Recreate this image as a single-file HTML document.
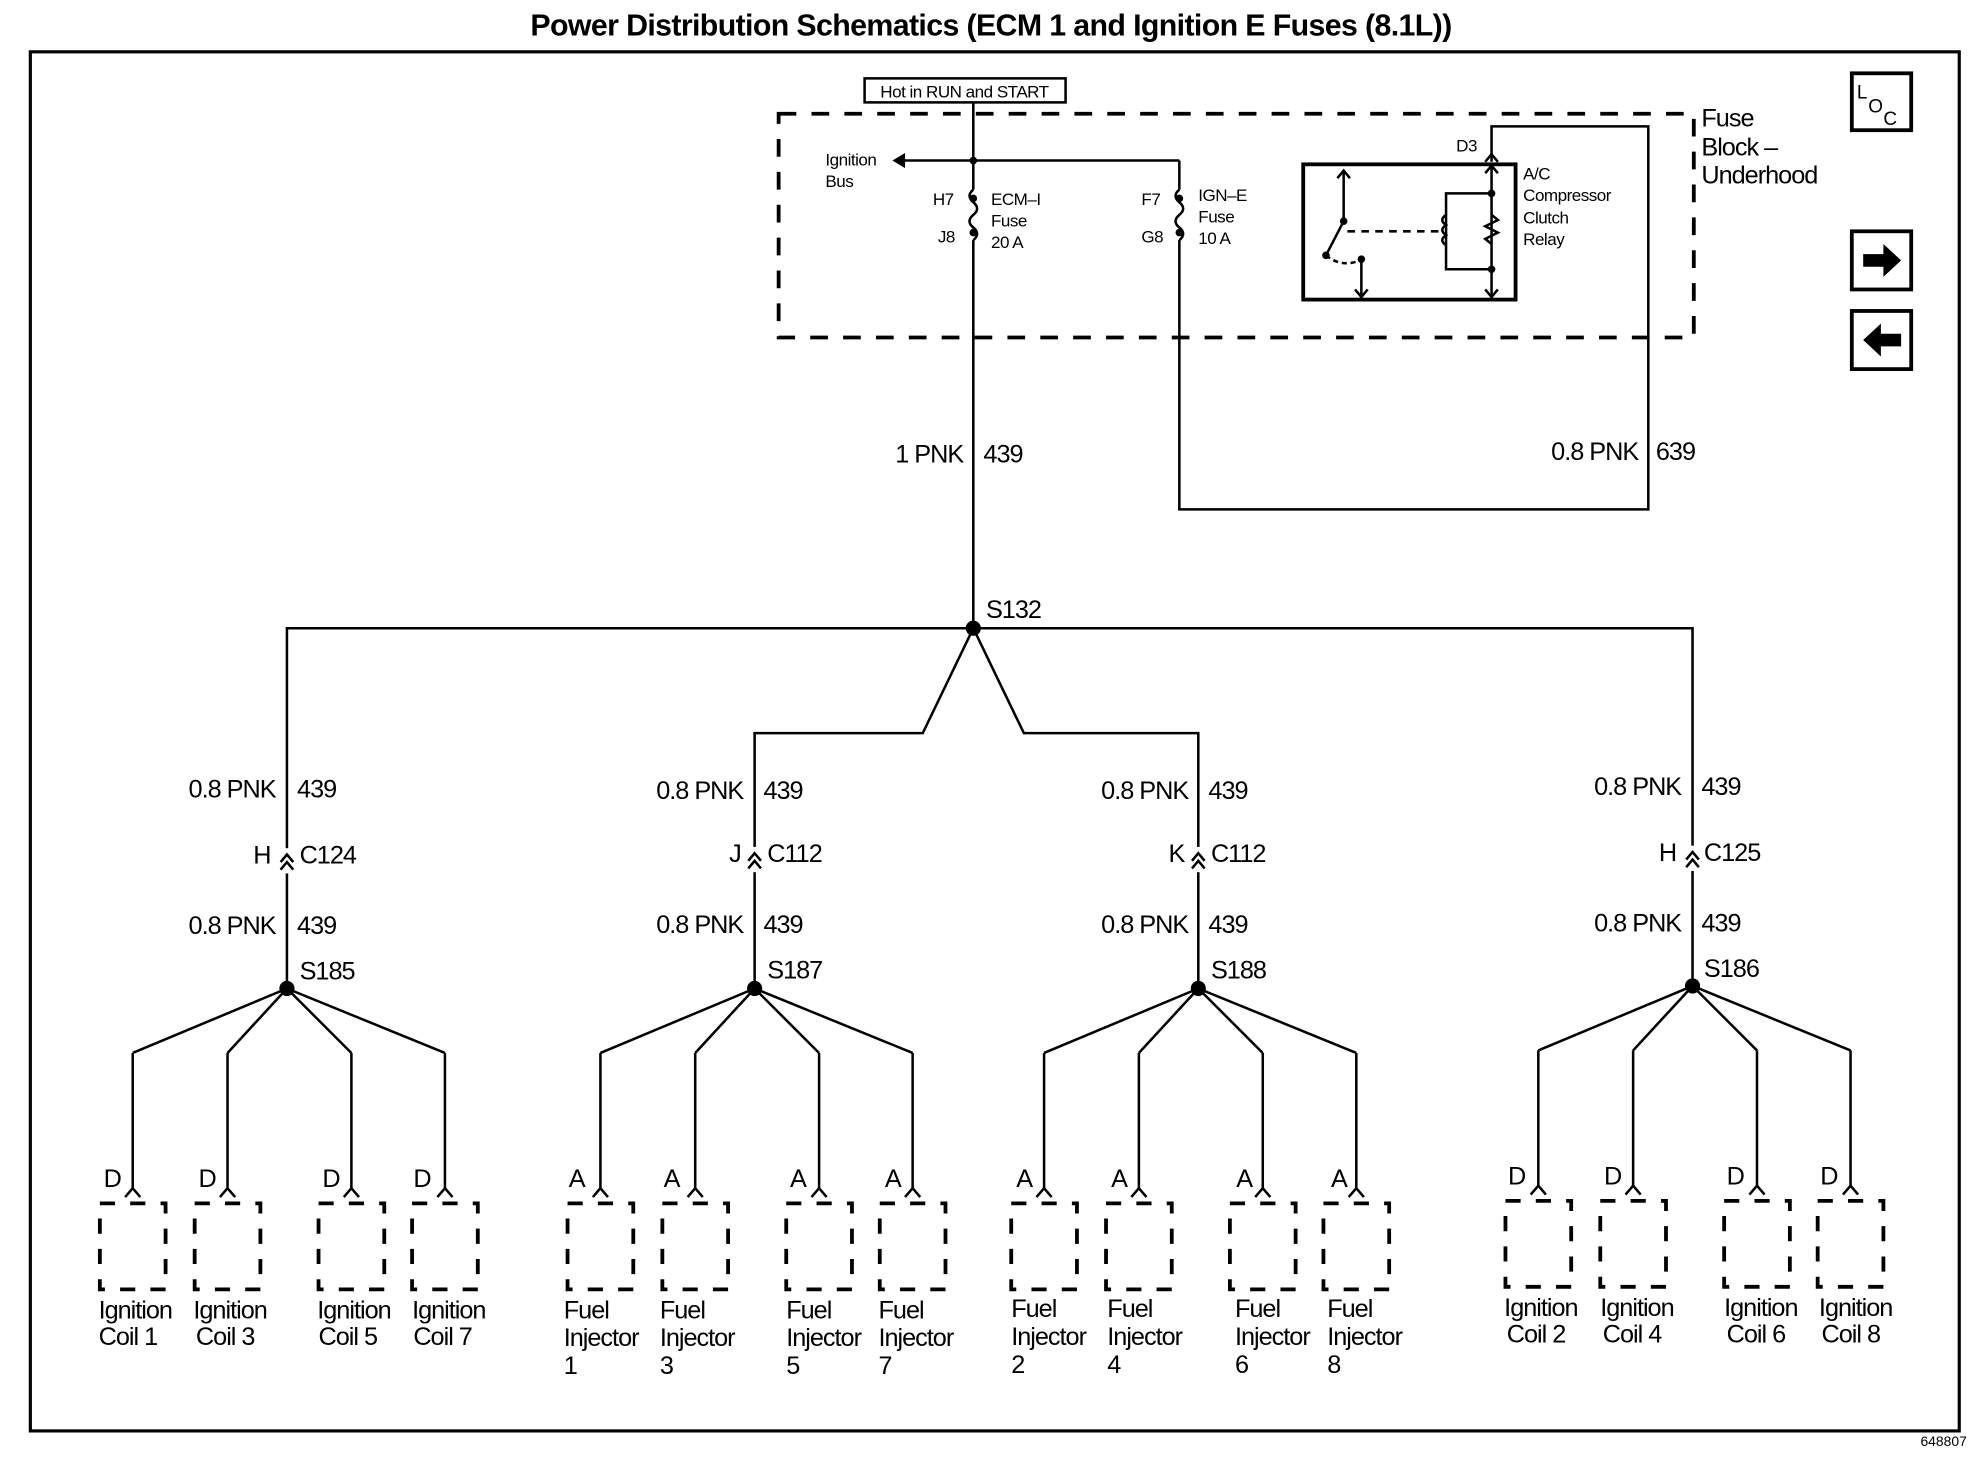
<!DOCTYPE html>
<html><head><meta charset="utf-8"><style>
html,body{margin:0;padding:0;background:#fff;}
svg{display:block;}
text{font-family:"Liberation Sans",sans-serif;fill:#000;}
.m{font-size:20px;letter-spacing:-0.8px;}
.s{font-size:13.5px;letter-spacing:-0.4px;}
</style></head><body>
<svg width="1982" height="1472" viewBox="0 0 1568 1164.5" preserveAspectRatio="none" xmlns="http://www.w3.org/2000/svg">
<defs>
<g id="drop" fill="none" stroke="#000">
<line x1="0" y1="0" x2="0" y2="107" stroke-width="2"/>
<polyline points="-6,114 0,107 6,114" stroke-width="2"/>
<rect x="-26" y="119" width="52" height="68" stroke-width="3" stroke-dasharray="12,12"/>
</g>
<g id="grp">
<circle cx="0" cy="0" r="6" fill="#000"/>
<polyline points="-122,51 0,0 -47,51" fill="none" stroke="#000" stroke-width="2"/>
<polyline points="51,51 0,0 125,51" fill="none" stroke="#000" stroke-width="2"/>
<use href="#drop" x="-122" y="51"/><use href="#drop" x="-47" y="51"/>
<use href="#drop" x="51" y="51"/><use href="#drop" x="125" y="51"/>
</g>
<g id="conn" fill="none" stroke="#000" stroke-width="2">
<polyline points="-5,10 0,4 5,10"/><polyline points="-5,16 0,10 5,16"/>
</g>
</defs>
<text x="784" y="28" text-anchor="middle" style="font-size:24px;font-weight:bold;letter-spacing:-0.5px">Power Distribution Schematics (ECM 1 and Ignition E Fuses (8.1L))</text>
<rect x="24" y="41" width="1526" height="1091" fill="none" stroke="#000" stroke-width="2.5"/>
<text x="1556" y="1144" text-anchor="end" style="font-size:11px">648807</text>

<rect x="616" y="90" width="724" height="177" fill="none" stroke="#000" stroke-width="3" stroke-dasharray="14,12"/>
<text class="m" x="1346" y="100">Fuse</text><text class="m" x="1346" y="123">Block –</text><text class="m" x="1346" y="145">Underhood</text>
<rect x="684" y="62" width="159" height="19" fill="none" stroke="#000" stroke-width="2"/>
<text class="s" x="763" y="77" text-anchor="middle">Hot in RUN and START</text>

<g fill="none" stroke="#000" stroke-width="2">
<line x1="770" y1="81" x2="770" y2="150"/>
<path d="M770,150 q-6,5 0,10 q6,5 0,10 q-6,5 0,10 q6,5 0,10"/>
<line x1="770" y1="190" x2="770" y2="497"/>
<line x1="770" y1="127" x2="712" y2="127"/>
<line x1="770" y1="127" x2="933" y2="127"/><line x1="933" y1="127" x2="933" y2="150"/>
<path d="M933,150 q-6,5 0,10 q6,5 0,10 q-6,5 0,10 q6,5 0,10"/>
<polyline points="933,190 933,403 1304,403 1304,100 1180,100 1180,128"/>
<polyline points="1175,128 1180,122 1185,128"/>
<rect x="1031" y="130" width="168" height="107" stroke-width="3"/>
<line x1="1063" y1="135" x2="1063" y2="175"/><polyline points="1058,141 1063,135 1068,141"/>
<line x1="1063" y1="175" x2="1049" y2="202"/>
<line x1="1066" y1="183" x2="1140" y2="183" stroke-dasharray="6,5"/>
<path d="M1049,202 q12,10 27,4" stroke-dasharray="4,3"/>
<line x1="1077" y1="205" x2="1077" y2="235"/><polyline points="1072,229 1077,235 1082,229"/>
<line x1="1180" y1="130" x2="1180" y2="235"/><polyline points="1175,137 1180,131 1185,137"/><polyline points="1175,229 1180,235 1185,229"/>
<polyline points="1180,153 1144,153 1144,213 1180,213"/>
<path d="M1144,170 q-6,4 0,8 q-6,4 0,8 q-6,4 0,8"/>
<polyline points="1180,170 1185,174 1175,179 1185,184 1175,189 1180,193"/>
</g>
<polygon points="706,127 716,121 716,133"/>
<circle cx="770" cy="127" r="3"/><circle cx="770" cy="157" r="3"/><circle cx="770" cy="184" r="3"/>
<circle cx="933" cy="157" r="3"/><circle cx="933" cy="184" r="3"/>
<circle cx="1063" cy="175" r="3"/><circle cx="1049" cy="202" r="3"/><circle cx="1077" cy="205" r="3"/>
<circle cx="1180" cy="153" r="3"/><circle cx="1180" cy="213" r="3"/>
<text class="s" x="653" y="131">Ignition</text><text class="s" x="653" y="148">Bus</text>
<text class="s" x="738" y="162">H7</text><text class="s" x="742" y="192">J8</text>
<text class="s" x="784" y="162">ECM–I</text><text class="s" x="784" y="179">Fuse</text><text class="s" x="784" y="196">20 A</text>
<text class="s" x="903" y="162">F7</text><text class="s" x="903" y="192">G8</text>
<text class="s" x="948" y="159">IGN–E</text><text class="s" x="948" y="176">Fuse</text><text class="s" x="948" y="193">10 A</text>
<text class="s" x="1152" y="120">D3</text>
<text class="s" x="1205" y="142">A/C</text><text class="s" x="1205" y="159">Compressor</text><text class="s" x="1205" y="177">Clutch</text><text class="s" x="1205" y="194">Relay</text>

<rect x="1465" y="58" width="47" height="45" fill="none" stroke="#000" stroke-width="3"/>
<text x="1469" y="78" style="font-size:15px">L</text><text x="1478" y="89" style="font-size:15px">O</text><text x="1490" y="99" style="font-size:15px">C</text>
<rect x="1465" y="183" width="47" height="46" fill="none" stroke="#000" stroke-width="3"/>
<polygon points="1474,201 1490,201 1490,193 1504,206 1490,219 1490,211 1474,211"/>
<rect x="1465" y="246" width="47" height="46" fill="none" stroke="#000" stroke-width="3"/>
<polygon points="1504,264 1488,264 1488,256 1474,269 1488,282 1488,274 1504,274"/>

<text class="m" x="762" y="366" text-anchor="end">1 PNK</text><text class="m" x="778" y="366">439</text>
<text class="m" x="1296" y="364" text-anchor="end">0.8 PNK</text><text class="m" x="1310" y="364">639</text>

<g fill="none" stroke="#000" stroke-width="2">
<polyline points="227,782 227,497 1339,497 1339,780"/>
<polyline points="597,782 597,580 730,580 770,497 810,580 948,580 948,782"/>
</g>
<circle cx="770" cy="497" r="6"/>
<text class="m" x="780" y="489">S132</text>

<use href="#grp" x="227" y="782"/><use href="#grp" x="597" y="782"/>
<use href="#grp" x="948" y="782"/><use href="#grp" x="1339" y="780"/>
<rect x="220" y="671" width="14" height="20" fill="#fff"/><use href="#conn" x="227" y="672"/>
<rect x="590" y="670" width="14" height="20" fill="#fff"/><use href="#conn" x="597" y="671"/>
<rect x="941" y="670" width="14" height="20" fill="#fff"/><use href="#conn" x="948" y="671"/>
<rect x="1332" y="669" width="14" height="20" fill="#fff"/><use href="#conn" x="1339" y="670"/>

<g class="m">
<text x="218" y="631" text-anchor="end">0.8 PNK</text><text x="235" y="631">439</text>
<text x="214" y="683" text-anchor="end">H</text><text x="237" y="683">C124</text>
<text x="218" y="739" text-anchor="end">0.8 PNK</text><text x="235" y="739">439</text>
<text x="237" y="775">S185</text>
<text x="588" y="632" text-anchor="end">0.8 PNK</text><text x="604" y="632">439</text>
<text x="586" y="682" text-anchor="end">J</text><text x="607" y="682">C112</text>
<text x="588" y="738" text-anchor="end">0.8 PNK</text><text x="604" y="738">439</text>
<text x="607" y="774">S187</text>
<text x="940" y="632" text-anchor="end">0.8 PNK</text><text x="956" y="632">439</text>
<text x="937" y="682" text-anchor="end">K</text><text x="958" y="682">C112</text>
<text x="940" y="738" text-anchor="end">0.8 PNK</text><text x="956" y="738">439</text>
<text x="958" y="774">S188</text>
<text x="1330" y="629" text-anchor="end">0.8 PNK</text><text x="1346" y="629">439</text>
<text x="1326" y="681" text-anchor="end">H</text><text x="1348" y="681">C125</text>
<text x="1330" y="737" text-anchor="end">0.8 PNK</text><text x="1346" y="737">439</text>
<text x="1348" y="773">S186</text>

<text x="82" y="939">D</text><text x="157" y="939">D</text><text x="255" y="939">D</text><text x="327" y="939">D</text>
<text x="450" y="939">A</text><text x="525" y="939">A</text><text x="625" y="939">A</text><text x="700" y="939">A</text>
<text x="804" y="939">A</text><text x="879" y="939">A</text><text x="978" y="939">A</text><text x="1053" y="939">A</text>
<text x="1193" y="937">D</text><text x="1269" y="937">D</text><text x="1366" y="937">D</text><text x="1440" y="937">D</text>

<text x="78" y="1043">Ignition</text><text x="78" y="1064">Coil 1</text>
<text x="153" y="1043">Ignition</text><text x="155" y="1064">Coil 3</text>
<text x="251" y="1043">Ignition</text><text x="252" y="1064">Coil 5</text>
<text x="326" y="1043">Ignition</text><text x="327" y="1064">Coil 7</text>
<text x="446" y="1043">Fuel</text><text x="446" y="1065">Injector</text><text x="446" y="1087">1</text>
<text x="522" y="1043">Fuel</text><text x="522" y="1065">Injector</text><text x="522" y="1087">3</text>
<text x="622" y="1043">Fuel</text><text x="622" y="1065">Injector</text><text x="622" y="1087">5</text>
<text x="695" y="1043">Fuel</text><text x="695" y="1065">Injector</text><text x="695" y="1087">7</text>
<text x="800" y="1042">Fuel</text><text x="800" y="1064">Injector</text><text x="800" y="1086">2</text>
<text x="876" y="1042">Fuel</text><text x="876" y="1064">Injector</text><text x="876" y="1086">4</text>
<text x="977" y="1042">Fuel</text><text x="977" y="1064">Injector</text><text x="977" y="1086">6</text>
<text x="1050" y="1042">Fuel</text><text x="1050" y="1064">Injector</text><text x="1050" y="1086">8</text>
<text x="1190" y="1041">Ignition</text><text x="1192" y="1062">Coil 2</text>
<text x="1266" y="1041">Ignition</text><text x="1268" y="1062">Coil 4</text>
<text x="1364" y="1041">Ignition</text><text x="1366" y="1062">Coil 6</text>
<text x="1439" y="1041">Ignition</text><text x="1441" y="1062">Coil 8</text>
</g>
</svg>
</body></html>
